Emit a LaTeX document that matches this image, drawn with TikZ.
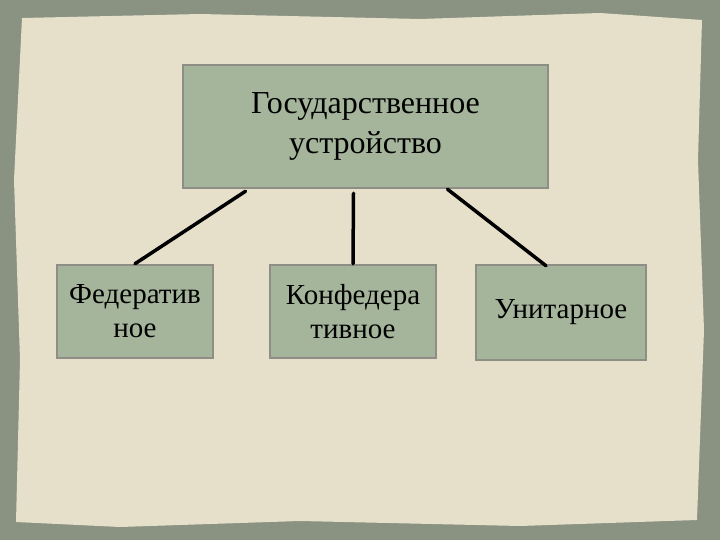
\documentclass[tikz,border=0pt]{standalone}
\usepackage{fontspec}
\setmainfont{Liberation Serif}
\usetikzlibrary{calc}
\definecolor{outerbg}{HTML}{8A9282}
\definecolor{paper}{HTML}{E6E0CB}
\definecolor{boxfill}{HTML}{A5B59B}
\definecolor{boxline}{HTML}{8E8E86}
\begin{document}
\begin{tikzpicture}[x=1pt,y=-1pt,
  box/.style={draw=boxline,line width=2.5pt,fill=boxfill,align=center,inner sep=0pt},
  conn/.style={line width=3.5pt,line cap=round},
  small/.style={font=\fontsize{29pt}{34pt}\selectfont}]
\fill[outerbg] (0,0) rectangle (720,540);
\fill[paper] (22,18) -- (200,14) -- (420,19) -- (600,13) -- (702,20) -- (698,160) -- (704,330) -- (697,520) -- (520,526) -- (300,521) -- (120,527) -- (16,522) -- (20,360) -- (14,180) -- cycle;
\node[box,minimum width=365pt,minimum height=123pt,font=\fontsize{32pt}{40pt}\selectfont] (top) at (365.5,126.5) {Государственное\\устройство};
\node[box,small,minimum width=156pt,minimum height=93pt] (fed) at (135,311.5) {Федератив\\ное};
\node[box,small,minimum width=166pt,minimum height=93pt] (conf) at (353,311.5) {Конфедера\\тивное};
\node[box,small,minimum width=170pt,minimum height=95pt] (unit) at (561,312.5) {Унитарное};
\draw[conn] ($(top.south)+(-120,2)$) -- (fed.north);
\draw[conn] ($(top.south)+(-12,4)$) -- (conf.north);
\draw[conn] ($(top.south)+(82,0)$) -- ($(unit.north)+(-15,2)$);
\end{tikzpicture}
\end{document}
